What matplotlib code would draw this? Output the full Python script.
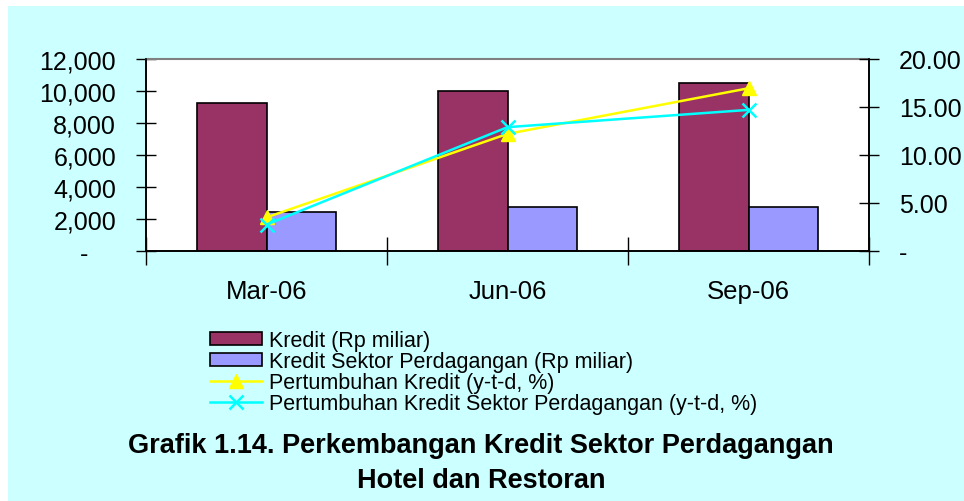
import matplotlib
matplotlib.use("Agg")
import matplotlib.pyplot as plt
from matplotlib.patches import Rectangle
from matplotlib.ticker import FuncFormatter
import numpy as np

plt.rcParams['font.family'] = ['Liberation Sans', 'DejaVu Sans']

# data
periods = ["Mar-06", "Jun-06", "Sep-06"]
kredit = [9250, 10000, 10480]          # Rp miliar
kredit_sektor = [2450, 2730, 2750]     # Rp miliar
tumbuh_kredit = [3.5, 12.2, 16.95]     # y-t-d, %
tumbuh_sektor = [2.75, 12.9, 14.7]     # y-t-d, %

bg = '#CCFFFF'
c_kredit = '#993366'
c_sektor = '#9999FF'

fig = plt.figure(figsize=(9.64, 5.02), dpi=100)
fig.patch.set_facecolor('white')
fig.patches.append(Rectangle((8/964, 0), 1, 1 - 7/502, transform=fig.transFigure,
                             facecolor=bg, edgecolor='none', zorder=-10))

ax = fig.add_axes([146/964, 1 - 252/502, (869 - 146)/964, 192/502])
ax.set_facecolor('white')
x = np.arange(len(periods))
w = 0.29
ax.bar(x - w/2, kredit, w, color=c_kredit, edgecolor='black', linewidth=1.2,
       label='Kredit (Rp miliar)', zorder=2)
ax.bar(x + w/2, kredit_sektor, w, color=c_sektor, edgecolor='black', linewidth=1.2,
       label='Kredit Sektor Perdagangan (Rp miliar)', zorder=2)
ax.set_xlim(-0.5, 2.5)
ax.set_ylim(0, 12000)
ax.set_yticks(np.arange(0, 12001, 2000))
ax.yaxis.set_major_formatter(FuncFormatter(lambda v, p: '-    ' if v == 0 else f'{int(v):,}'))
ax.tick_params(axis='y', direction='inout', length=15, width=1, labelsize=18, pad=14)

ax.set_xticks([-0.5, 0.5, 1.5, 2.5])
ax.set_xticklabels([])
ax.set_xticks(x, minor=True)
ax.set_xticklabels(periods, minor=True)
ax.tick_params(axis='x', which='major', direction='inout', length=20, width=1)
ax.tick_params(axis='x', which='minor', length=0, labelsize=18.5, pad=20)

for s in ['left', 'right', 'bottom']:
    ax.spines[s].set_color('black')
    ax.spines[s].set_linewidth(1.2)
ax.spines['top'].set_color('#808080')
ax.spines['top'].set_linewidth(1.5)

ax2 = ax.twinx()
ax2.plot(x, tumbuh_kredit, color='#FFFF00', linewidth=1.8, marker='^', markersize=10,
         label='Pertumbuhan Kredit (y-t-d, %)', zorder=3)
ax2.plot(x, tumbuh_sektor, color='#00FFFF', linewidth=1.8, marker='x', markersize=10,
         markeredgewidth=1.8, label='Pertumbuhan Kredit Sektor Perdagangan (y-t-d, %)', zorder=3)
ax2.set_ylim(0, 20)
ax2.set_yticks(np.arange(0, 20.1, 5))
ax2.yaxis.set_major_formatter(FuncFormatter(lambda v, p: '-' if v == 0 else f'{v:.2f}'))
ax2.tick_params(axis='y', direction='inout', length=15, width=1, labelsize=18, pad=14)
for s in ['left', 'right', 'bottom']:
    ax2.spines[s].set_color('black')
    ax2.spines[s].set_linewidth(1.2)
ax2.spines['top'].set_visible(False)

h1, l1 = ax.get_legend_handles_labels()
h2, l2 = ax2.get_legend_handles_labels()
fig.legend(h1 + h2, l1 + l2, loc='upper left', bbox_to_anchor=(210/964, 1 - 331/502),
           frameon=False, fontsize=15.5, borderpad=0, borderaxespad=0,
           labelspacing=0.0, handlelength=2.4, handletextpad=0.35, handleheight=0.6)

fig.text(481/964, 1 - 446/502, 'Grafik 1.14. Perkembangan Kredit Sektor Perdagangan',
         ha='center', va='center', fontsize=19.5, fontweight='bold')
fig.text(481/964, 1 - 481/502, 'Hotel dan Restoran',
         ha='center', va='center', fontsize=19.5, fontweight='bold')

fig.savefig('out.png', dpi=100, facecolor=fig.get_facecolor())
